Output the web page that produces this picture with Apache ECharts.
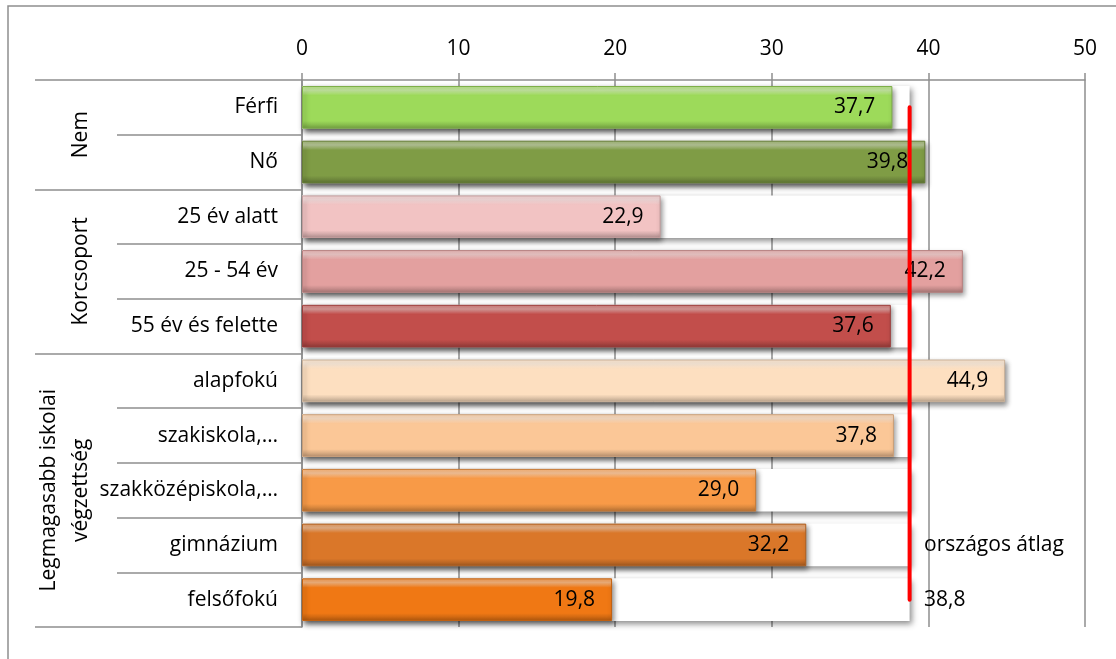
<!DOCTYPE html>
<html>
<head>
<meta charset="utf-8">
<script src="https://cdn.jsdelivr.net/npm/echarts@6/dist/echarts.min.js"></script>
<style>html,body{margin:0;padding:0;background:#fff}#c{width:1116px;height:659px}</style>
</head>
<body>
<div id="c"></div>
<script>
const categories = ['Férfi','Nő','25 év alatt','25 - 54 év','55 év és felette','alapfokú','szakiskola,…','szakközépiskola,…','gimnázium','felsőfokú'];
const values = [37.7, 39.8, 22.9, 42.2, 37.6, 44.9, 37.8, 29.0, 32.2, 19.8];
const barColors = ['#9DDA5A','#7F9C45','#F2C3C3','#E3A09F','#C24E4B','#FDDFC0','#FBC797','#F89A47','#DA7729','#F07814'];
const groupNames = ['Nem','Korcsoport','Legmagasabb iskolai\nvégzettség'];
const groupSizes = [2, 3, 5];
const avgValue = 38.8;
const avgLabel = 'országos átlag';
const xTicks = [0, 10, 20, 30, 40, 50];

const FONT = '"Open Sans", sans-serif';
const FS = 21;
const GREY = '#8E8E8E';

// group boundaries and centres (in row units)
const groupBounds = [0];
groupSizes.forEach(s => groupBounds.push(groupBounds[groupBounds.length - 1] + s));
const groupCenters = groupSizes.map((s, i) => groupBounds[i] + s / 2);

function fmt(v) { return v.toFixed(1).replace('.', ','); }

function shade(hex, amt) {
  const n = parseInt(hex.slice(1), 16);
  let r = n >> 16, g = (n >> 8) & 255, b = n & 255;
  const f = c => amt >= 0 ? Math.round(c + (255 - c) * amt) : Math.round(c * (1 + amt));
  return 'rgb(' + f(r) + ',' + f(g) + ',' + f(b) + ')';
}

function bevel(hex) {
  return new echarts.graphic.LinearGradient(0, 0, 0, 1, [
    { offset: 0, color: shade(hex, 0.25) },
    { offset: 0.1, color: shade(hex, 0.45) },
    { offset: 0.22, color: hex },
    { offset: 0.82, color: hex },
    { offset: 0.9, color: shade(hex, -0.12) },
    { offset: 1, color: shade(hex, -0.28) }
  ]);
}

const chart = echarts.init(document.getElementById('c'));
chart.setOption({
  animation: false,
  backgroundColor: '#fff',
  textStyle: { fontFamily: FONT },
  graphic: [{
    type: 'rect', shape: { x: 8, y: 6, width: 1300, height: 800 },
    style: { fill: 'none', stroke: GREY, lineWidth: 1.5 }, silent: true, z: -1
  }],
  grid: { left: 302, right: 31, top: 80, bottom: 32, containLabel: false },
  xAxis: {
    type: 'value', position: 'top', min: xTicks[0], max: xTicks[xTicks.length - 1], interval: 10,
    axisLine: { show: true, lineStyle: { color: GREY, width: 1.5 } },
    axisTick: { show: true, length: 7, lineStyle: { color: GREY, width: 1.5 } },
    splitLine: { show: true, lineStyle: { color: GREY, width: 1.5 } },
    axisLabel: { fontSize: FS, color: '#000', margin: 20, fontFamily: FONT }
  },
  yAxis: [{
    type: 'category', inverse: true, position: 'left', data: categories,
    axisLine: { show: true, lineStyle: { color: GREY, width: 1.5 } },
    axisTick: { show: true, interval: 0, length: 185, lineStyle: { color: GREY, width: 1.5 } },
    axisLabel: { interval: 0, fontSize: FS, color: '#000', margin: 24, fontFamily: FONT },
    splitLine: { show: false }
  }, {
    type: 'value', inverse: true, position: 'left', min: 0, max: groupBounds[groupBounds.length - 1],
    axisLine: { show: false },
    splitLine: { show: false },
    axisTick: { show: true, customValues: groupBounds, length: 267, lineStyle: { color: GREY, width: 1.5 } },
    axisLabel: {
      customValues: groupCenters, rotate: 90, margin: 205, fontSize: FS, lineHeight: 32,
      color: '#000', fontFamily: FONT,
      formatter: v => groupNames[groupCenters.indexOf(v)] || ''
    }
  }],
  series: [{
    type: 'bar', yAxisIndex: 0, barCategoryGap: '22%',
    data: categories.map(() => avgValue),
    itemStyle: { color: '#fff', shadowColor: 'rgba(0,0,0,0.45)', shadowBlur: 6, shadowOffsetX: 2, shadowOffsetY: 3 },
    silent: true, z: 1
  }, {
    type: 'bar', yAxisIndex: 0, barGap: '-100%', barCategoryGap: '22%',
    data: values.map((v, i) => ({
      value: v,
      itemStyle: {
        color: bevel(barColors[i]),
        borderColor: shade(barColors[i], -0.2), borderWidth: 1,
        shadowColor: 'rgba(0,0,0,0.45)', shadowBlur: 5, shadowOffsetX: 2, shadowOffsetY: 3
      }
    })),
    label: {
      show: true, position: 'insideRight', distance: 17, fontSize: FS, color: '#000', fontFamily: FONT,
      formatter: p => fmt(p.value)
    },
    z: 2
  }, {
    type: 'line', yAxisIndex: 0,
    data: categories.map(() => avgValue),
    symbol: 'circle', symbolSize: 1, showSymbol: true, showAllSymbol: true,
    itemStyle: { color: 'rgba(255,0,0,0)' },
    lineStyle: { color: '#FF0000', width: 4, cap: 'round' },
    label: {
      show: true, position: 'right', distance: 14, fontSize: FS, color: '#000', fontFamily: FONT,
      formatter: p => p.dataIndex === categories.length - 2 ? avgLabel : (p.dataIndex === categories.length - 1 ? fmt(avgValue) : '')
    },
    z: 3
  }]
});
</script>
</body>
</html>
